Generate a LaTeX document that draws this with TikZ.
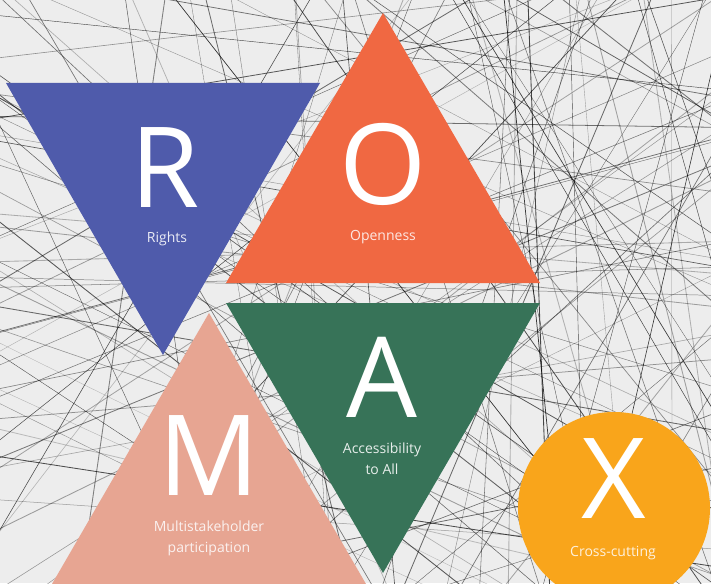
\documentclass[tikz,border=0pt]{standalone}
\usepackage{fontspec}
\setmainfont{Open Sans}
\definecolor{bgc}{HTML}{EDEDED}
\definecolor{rblue}{HTML}{4F5BAB}
\definecolor{oorange}{HTML}{F06842}
\definecolor{mpink}{HTML}{E7A592}
\definecolor{agreen}{HTML}{377358}
\definecolor{xyellow}{HTML}{F9A51B}
\tikzset{
  bigletter/.style={text=white, font=\fontsize{112}{112}\selectfont, anchor=base, inner sep=0pt},
  caption/.style={font=\fontsize{14}{20.5}\selectfont, anchor=base, inner sep=0pt, align=center},
  strand/.style={black, line cap=round}
}
\begin{document}
\begin{tikzpicture}[x=1pt,y=-1pt]
\useasboundingbox (0,0) rectangle (711,583);
\begin{scope}
  \clip (0,0) rectangle (711,583);
  \fill[bgc] (0,0) rectangle (711,583);
  \pgfmathsetseed{4}
  \foreach \i in {1,...,80}{
    \pgfmathsetmacro{\px}{rnd*711}
    \pgfmathsetmacro{\py}{rnd*583}
    \pgfmathsetmacro{\ang}{rnd*180}
    \pgfmathsetmacro{\op}{0.2+0.5*rnd}
    \pgfmathsetmacro{\lw}{0.3+0.6*rnd}
    \draw[strand, opacity=\op, line width=\lw pt] (\px,\py) ++(\ang:900) -- ++(\ang+180:1800);
  }
  \foreach \i in {1,...,40}{
    \pgfmathsetmacro{\px}{450+rnd*261}
    \pgfmathsetmacro{\py}{rnd*583}
    \pgfmathsetmacro{\ang}{rnd*180}
    \pgfmathsetmacro{\op}{0.3+0.5*rnd}
    \pgfmathsetmacro{\lw}{0.3+0.6*rnd}
    \draw[strand, opacity=\op, line width=\lw pt] (\px,\py) ++(\ang:900) -- ++(\ang+180:1800);
  }
\end{scope}
% triangles
\fill[rblue] (6,83) -- (320,83) -- (163,355) -- cycle;
\fill[oorange] (383,13) -- (540,283) -- (226,283) -- cycle;
\fill[mpink] (209,313) -- (366,584) -- (52,584) -- cycle;
\fill[agreen] (226,303) -- (540,303) -- (383,573) -- cycle;
\fill[xyellow] (614,508) circle[radius=96];
% letters
\node[bigletter] (R) at (165,207) {R};
\node[bigletter] (O) at (383,204) {O};
\node[bigletter] (M) at (209,495) {M};
\node[bigletter] (A) at (382,417) {A};
\node[bigletter] (X) at (614,518) {X};
% captions
\node[caption, text=white!88!rblue] (rights) at (167,242) {Rights};
\node[caption, text=white!85!oorange] (open) at (383,240) {Openness};
\node[caption, text=white!85!mpink] (multi) at (209,552) {Multistakeholder\\participation};
\node[caption, text=white!88!agreen] (access) at (382,474) {Accessibility\\to All};
\node[caption, text=white!85!xyellow] (cross) at (613,556) {Cross-cutting};
\end{tikzpicture}
\end{document}
